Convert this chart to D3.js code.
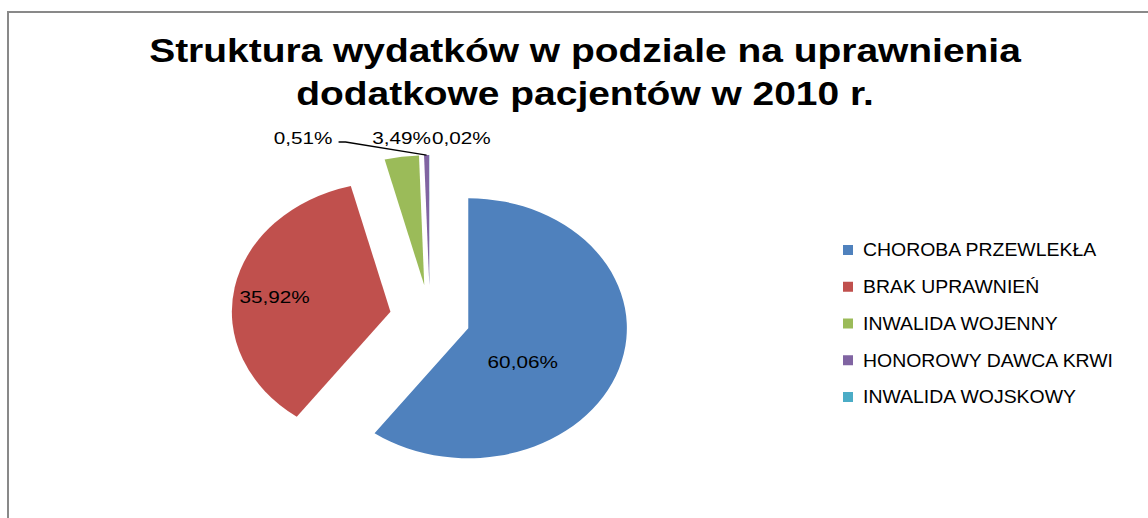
<!DOCTYPE html>
<html>
<head>
<meta charset="utf-8">
<script src="https://cdn.jsdelivr.net/npm/d3@7"></script>
<style>
  body { margin: 0; background: #fff; }
  text { font-family: "Liberation Sans", Arial, sans-serif; fill: #000; }
</style>
</head>
<body>
<div id="chart"></div>
<script>
// Data
const categories = ['CHOROBA PRZEWLEKŁA', 'BRAK UPRAWNIEŃ', 'INWALIDA WOJENNY', 'HONOROWY DAWCA KRWI', 'INWALIDA WOJSKOWY'];
const shares = [60.06, 35.92, 3.49, 0.51, 0.02];
const colors = ['#4F81BD', '#C0504D', '#9BBB59', '#8064A2', '#4BACC6'];
const titleLines = ['Struktura wydatków w podziale na uprawnienia', 'dodatkowe pacjentów w 2010 r.'];

const width = 1148;
const height = 518;

// the pie in the original is stretched horizontally
const sx = 1.22;
const cx = 430, cy = 318, radius = 130, explode = 33;

const svg = d3.select('#chart')
  .append('svg')
  .attr('width', width)
  .attr('height', height);

// chart area frame
svg.append('rect')
  .attr('x', 8)
  .attr('y', 12)
  .attr('width', width + 20)
  .attr('height', height + 20)
  .attr('fill', 'none')
  .attr('stroke', '#898989')
  .attr('stroke-width', 2);

// title
svg.selectAll('.title')
  .data(titleLines)
  .enter()
  .append('text')
  .attr('class', 'title')
  .attr('transform', (d, i) => `translate(585, ${62 + i * 43}) scale(1.18, 1)`)
  .attr('text-anchor', 'middle')
  .style('font-size', '33px')
  .style('font-weight', 'bold')
  .text(d => d);

const pie = d3.pie().sort(null).value(d => d.value);
const arcs = pie(categories.map((c, i) => ({ name: c, value: shares[i], color: colors[i] })));

const arc = d3.arc().innerRadius(0).outerRadius(radius);
const mid = d => (d.startAngle + d.endAngle) / 2;

// offset (in screen pixels) of a point at angle a and distance r from the pie centre
const polar = (a, r) => [Math.sin(a) * r * sx, -Math.cos(a) * r];

const pieG = svg.append('g').attr('transform', `translate(${cx}, ${cy})`);

pieG.selectAll('.slice')
  .data(arcs)
  .enter()
  .append('path')
  .attr('class', 'slice')
  .attr('transform', d => {
    const [ox, oy] = polar(mid(d), explode);
    return `translate(${ox}, ${oy}) scale(${sx}, 1)`;
  })
  .attr('d', arc)
  .attr('fill', d => d.data.color);

// data labels: big slices inside, small ones above the pie
const fmt = v => d3.format('.2f')(v).replace('.', ',') + '%';
const inside = { 0: [127, 0.43], 1: [279, 0.74] }; // angle (deg), radius fraction
const labelY = -radius - explode - 17;

arcs.forEach((d, i) => {
  let x, y, anchor = 'middle';
  if (inside[i]) {
    const [ex, ey] = polar(mid(d), explode);
    const [lx, ly] = polar(inside[i][0] * Math.PI / 180, inside[i][1] * radius);
    x = ex + lx; y = ey + ly;
  } else {
    const [ox] = polar(mid(d), radius + explode);
    y = labelY;
    if (i === 2) { x = ox; }
    else if (i === 4) { x = ox + 2; anchor = 'start'; }
    else {
      x = ox - 94; anchor = 'end';
      const [px, py] = polar(mid(d), radius + explode);
      pieG.append('path')
        .attr('d', d3.line()([[x + 6, y + 4], [x + 13, y + 4], [px, py]]))
        .attr('fill', 'none')
        .attr('stroke', '#000')
        .attr('stroke-width', 1.3);
    }
  }
  pieG.append('text')
    .attr('transform', `translate(${x}, ${y}) scale(1.22, 1)`)
    .attr('text-anchor', anchor)
    .attr('dy', '0.36em')
    .style('font-size', '17px')
    .text(fmt(d.data.value));
});

// legend
const legendY = d3.scalePoint()
  .domain(categories)
  .range([250, 397]);

const legend = svg.selectAll('.legend')
  .data(categories)
  .enter()
  .append('g')
  .attr('class', 'legend')
  .attr('transform', d => `translate(843, ${legendY(d)})`);

legend.append('rect')
  .attr('x', 0)
  .attr('y', -5)
  .attr('width', 10)
  .attr('height', 10)
  .attr('fill', (d, i) => colors[i]);

legend.append('text')
  .attr('transform', 'translate(20, 0) scale(1.08, 1)')
  .attr('dy', '0.36em')
  .style('font-size', '18px')
  .text(d => d);
</script>
</body>
</html>
